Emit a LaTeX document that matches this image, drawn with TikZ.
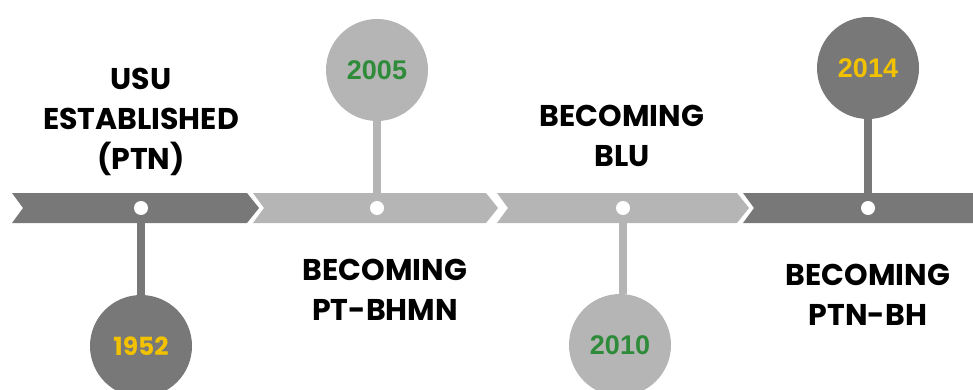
\documentclass[tikz,border=0pt]{standalone}
\usepackage{fontspec}
\setmainfont{Poppins}
\newfontfamily\yearfont{Liberation Sans}
\usetikzlibrary{positioning}
\colorlet{darkband}{black!53}
\colorlet{lightband}{black!29}
\definecolor{yeargreen}{HTML}{2E8B3A}
\definecolor{yearyellow}{HTML}{F2C200}
\tikzset{
  yearball/.style={circle,minimum size=102pt,inner sep=0pt,font=\yearfont\bfseries\fontsize{27}{27}\selectfont},
  dot/.style={circle,fill=white,minimum size=14pt,inner sep=0pt},
  stem/.style={line width=8pt},
  milestone/.style={align=center,font=\bfseries\fontsize{30}{40}\selectfont}
}
\begin{document}
\begin{tikzpicture}[x=1pt,y=-1pt]
  \useasboundingbox (0,0) rectangle (973,390);
  % band
  \fill[darkband]  (12,193) -- (247,193) -- (259,208) -- (247,223) -- (12,223) -- (23,208) -- cycle;
  \fill[lightband] (253,193) -- (486,193) -- (498,208) -- (486,223) -- (253,223) -- (264,208) -- cycle;
  \fill[lightband] (497,193) -- (737,193) -- (749,208) -- (737,223) -- (497,223) -- (508,208) -- cycle;
  \fill[darkband]  (743,193) -- (973,193) -- (973,223) -- (743,223) -- (754,208) -- cycle;
  % dots on the band
  \node[dot] (d1) at (141,208) {};
  \node[dot] (d2) at (377,208) {};
  \node[dot] (d3) at (623,208) {};
  \node[dot] (d4) at (868,208) {};
  % years
  \node[yearball,fill=darkband,text=yearyellow,font=\bfseries\fontsize{25}{25}\selectfont] (y1) at (141,346) {1952};
  \node[yearball,fill=lightband,text=yeargreen]  (y2) at (377,70)  {2005};
  \node[yearball,fill=lightband,text=yeargreen]  (y3) at (620,345) {2010};
  \node[yearball,fill=darkband,text=yearyellow]  (y4) at (868,68)  {2014};
  \draw[stem,darkband]  (d1) -- (y1);
  \draw[stem,lightband] (d2) -- (y2);
  \draw[stem,lightband] (d3.south) -- (y3.north -| d3);
  \draw[stem,darkband]  (d4) -- (y4);
  % texts
  \node[milestone] (t1) at (141,122) {USU\\ESTABLISHED\\(PTN)};
  \node[milestone] (t2) at (385,290) {BECOMING\\PT-BHMN};
  \node[milestone] (t3) at (622,136) {BECOMING\\BLU};
  \node[milestone] (t4) at (868,295) {BECOMING\\PTN-BH};
\end{tikzpicture}
\end{document}
